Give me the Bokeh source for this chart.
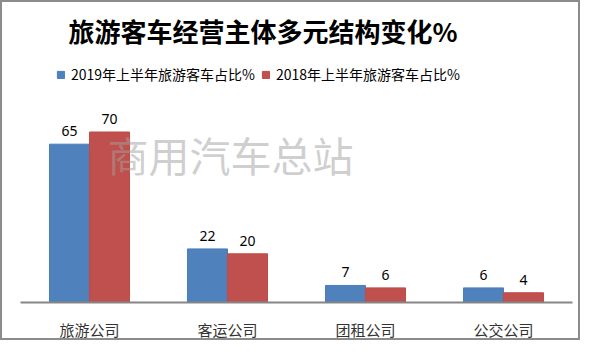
from bokeh.plotting import figure
from bokeh.models import ColumnDataSource, FactorRange, Range1d, Legend, LegendItem, Label, LabelSet
from bokeh.transform import dodge
from bokeh.core.properties import value
from bokeh.embed import file_html
from bokeh.resources import INLINE

categories = ["旅游公司", "客运公司", "团租公司", "公交公司"]
series_2019 = [65, 22, 7, 6]
series_2018 = [70, 20, 6, 4]
label_2019 = "2019年上半年旅游客车占比%"
label_2018 = "2018年上半年旅游客车占比%"
title_text = "旅游客车经营主体多元结构变化%"
watermark = "商用汽车总站"

src = ColumnDataSource(dict(cat=categories, a=series_2019, b=series_2018,
                            ta=[str(v) for v in series_2019], tb=[str(v) for v in series_2018]))

p = figure(width=580, height=340, output_backend="svg", toolbar_location=None,
           x_range=FactorRange(*categories, range_padding=0), y_range=Range1d(0, 101),
           min_border_left=18, min_border_right=10, min_border_top=53, min_border_bottom=32)
p.styles = {"border": "2px solid #8c8c8c"}

p.title.text = title_text
p.title.text_font = "Noto Sans CJK SC"
p.title.text_font_size = "26px"
p.title.text_font_style = "bold"
p.title.text_color = "#000000"
p.title.align = "left"
p.title.offset = 48
p.title.standoff = 15

w = 0.29
ra = p.vbar(x=dodge("cat", -w / 2, range=p.x_range), top="a", width=w, source=src,
            fill_color="#4F81BD", line_color="#4A7EBB")
rb = p.vbar(x=dodge("cat", w / 2, range=p.x_range), top="b", width=w, source=src,
            fill_color="#C0504D", line_color="#BE4B48")

for col, txt, off in (("a", "ta", -w / 2), ("b", "tb", w / 2)):
    p.add_layout(LabelSet(x=dodge("cat", off, range=p.x_range), y=col, text=txt, source=src,
                          text_align="center", text_baseline="bottom", y_offset=8,
                          text_font=value("Noto Sans"), text_font_size="14px", text_color="#000000"))

p.add_layout(Label(x=87, y=149, x_units="screen", y_units="screen", text=watermark,
                   text_font="Noto Sans CJK SC", text_font_size="41px", text_color="#a0a0a0",
                   text_alpha=0.5, text_baseline="middle"))

legend = Legend(items=[LegendItem(label=label_2019, renderers=[ra]),
                       LegendItem(label=label_2018, renderers=[rb])],
                orientation="horizontal", location=(36, 218), glyph_width=9, glyph_height=9,
                label_text_font="Noto Sans CJK SC", label_text_font_size="14px",
                label_text_color="#000000", label_standoff=6, spacing=6, padding=5,
                border_line_color=None, background_fill_alpha=0)
p.add_layout(legend)

p.yaxis.visible = False
p.xgrid.visible = False
p.ygrid.visible = False
p.outline_line_color = None
p.xaxis.axis_line_color = "#868686"
p.xaxis.axis_line_width = 2
p.xaxis.major_tick_line_color = None
p.xaxis.minor_tick_line_color = None
p.xaxis.major_label_text_font = "Noto Sans CJK SC"
p.xaxis.major_label_text_font_size = "15px"
p.xaxis.major_label_text_color = "#333333"
p.xaxis.major_label_standoff = 10

open("out.html", "w").write(file_html(p, INLINE))
